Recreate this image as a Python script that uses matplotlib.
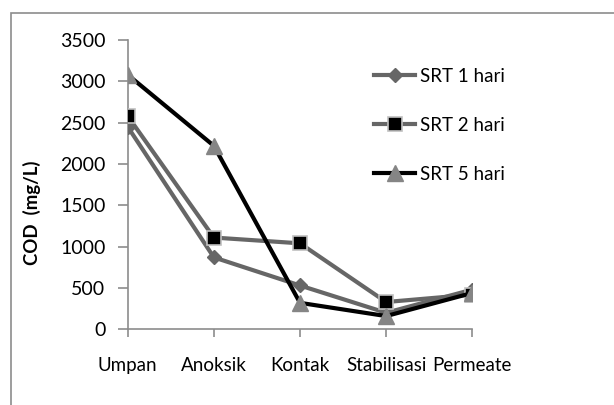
import matplotlib

matplotlib.use("Agg")
import matplotlib.pyplot as plt
from matplotlib.patches import Rectangle

stages = ["Umpan", "Anoksik", "Kontak", "Stabilisasi", "Permeate"]
srt1 = [2450, 870, 530, 200, 480]
srt2 = [2580, 1110, 1040, 330, 420]
srt5 = [3080, 2220, 320, 160, 440]
yticks = [0, 500, 1000, 1500, 2000, 2500, 3000, 3500]

plt.rcParams["font.family"] = ["Lato", "DejaVu Sans"]

W, H = 614, 405
fig = plt.figure(figsize=(W / 100, H / 100), dpi=100)
fig.patch.set_facecolor("white")

# outer chart frame (runs off the right and bottom edges)
fig.patches.append(
    Rectangle((11 / W, -0.2), 1.2, 1.2 - 13 / H, transform=fig.transFigure,
              fill=False, edgecolor="#8c8c8c", linewidth=1.2)
)

ax = fig.add_axes([127.7 / W, 1 - 329.3 / H, (472.3 - 127.7) / W, (329.3 - 40) / H])
x = list(range(len(stages)))

ax.plot(x, srt1, color="#666666", linewidth=3.0, marker="D", markersize=7.5,
        markerfacecolor="#666666", markeredgecolor="#666666", label="SRT 1 hari", zorder=3)
ax.plot(x, srt2, color="#666666", linewidth=3.0, marker="s", markersize=10,
        markerfacecolor="black", markeredgecolor="#c0c0c0", markeredgewidth=1.2,
        label="SRT 2 hari", zorder=4)
ax.plot(x, srt5, color="black", linewidth=3.0, marker="^", markersize=11,
        markerfacecolor="#858585", markeredgecolor="#858585", label="SRT 5 hari", zorder=5)

ax.set_xlim(0, len(stages) - 1)
ax.set_ylim(0, 3500)
ax.set_xticks(x)
ax.set_xticklabels(stages, fontsize=13.5)
ax.set_yticks(yticks)
ax.set_yticklabels([str(v) for v in yticks], fontsize=14)
ax.tick_params(axis="x", direction="out", length=6, width=1.2, color="#8c8c8c", pad=14)
ax.tick_params(axis="y", direction="out", length=7, width=1.2, color="#8c8c8c", pad=9)
for side in ("top", "right"):
    ax.spines[side].set_visible(False)
for side in ("left", "bottom"):
    ax.spines[side].set_color("#8c8c8c")
    ax.spines[side].set_linewidth(1.2)
ax.patch.set_alpha(0)

fig.text(32 / W, 1 - 213 / H, "COD  (mg/L)", rotation=90, ha="center", va="center",
         fontsize=13.4, fontweight="bold")

ax.legend(loc="upper left", bbox_to_anchor=(357 / W, 1 - 51 / H),
          bbox_transform=fig.transFigure, frameon=False, fontsize=13.5,
          handlelength=2.2, handletextpad=0.25, labelspacing=1.7)

fig.savefig("out.png", dpi=100)
